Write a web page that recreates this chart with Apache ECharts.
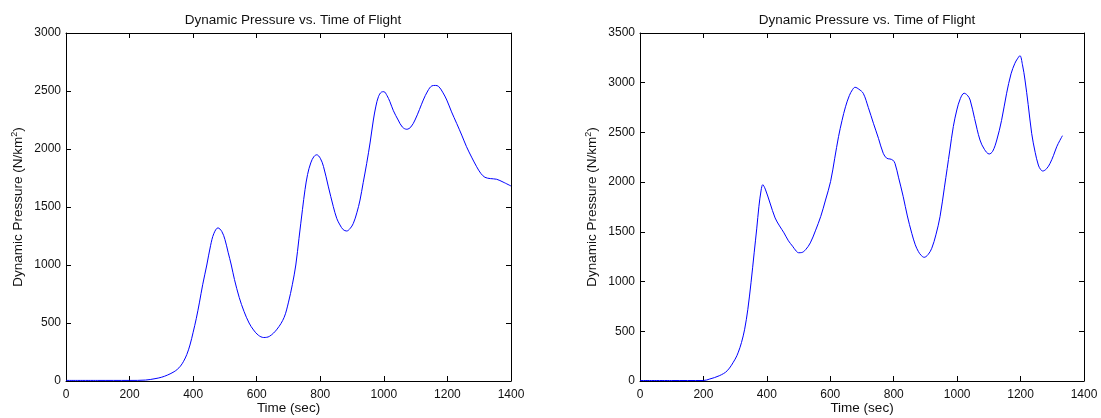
<!DOCTYPE html>
<html>
<head>
<meta charset="utf-8">
<title>Dynamic Pressure vs. Time of Flight</title>
<script src="https://cdn.jsdelivr.net/npm/echarts@6/dist/echarts.min.js"></script>
<style>
  html, body { margin: 0; padding: 0; background: #fff; }
  #chart { width: 1101px; height: 418px; }
</style>
</head>
<body>
<div id="chart"></div>
<script>
// Flight 1: time (s) and dynamic pressure
const leftTime = [0, 100, 200, 250, 280, 300, 320, 340, 350, 360, 370, 380, 390, 400, 410, 420, 430, 443, 455, 465, 478, 490, 500, 510, 520, 530, 545, 560, 576, 590, 605, 622, 640, 664, 686, 700, 712, 723, 733, 744, 752, 760, 770, 780, 789, 800, 810, 825, 841, 852, 862, 872, 883, 894, 904, 915, 925, 935, 946, 957, 967, 975, 983, 992, 1000, 1010, 1019, 1030, 1045, 1058, 1072, 1085, 1098, 1112, 1124, 1138, 1151, 1162, 1172, 1185, 1198, 1213, 1229, 1245, 1260, 1276, 1292, 1305, 1318, 1335, 1355, 1375, 1400];
const leftPressure = [5, 5, 5, 8, 20, 32, 52, 80, 100, 128, 170, 228, 310, 420, 540, 680, 830, 1000, 1170, 1270, 1320, 1290, 1220, 1110, 1000, 875, 720, 600, 500, 440, 395, 375, 385, 447, 547, 680, 830, 1000, 1230, 1480, 1650, 1780, 1880, 1935, 1950, 1920, 1850, 1680, 1503, 1400, 1345, 1305, 1293, 1315, 1359, 1450, 1560, 1710, 1876, 2060, 2250, 2370, 2451, 2490, 2494, 2460, 2408, 2330, 2250, 2190, 2170, 2190, 2250, 2340, 2422, 2500, 2544, 2548, 2540, 2490, 2422, 2320, 2221, 2120, 2020, 1930, 1847, 1790, 1756, 1745, 1739, 1715, 1681];

// Flight 2: time (s) and dynamic pressure
const rightTime = [0, 100, 200, 220, 250, 275, 300, 310, 320, 330, 340, 350, 360, 368, 375, 382, 387, 395, 410, 426, 440, 454, 468, 481, 493, 500, 510, 522, 537, 553, 570, 585, 601, 614, 626, 637, 648, 660, 670, 678, 690, 704, 720, 736, 752, 767, 778, 788, 797, 804, 815, 830, 843, 857, 868, 878, 887, 896, 908, 920, 933, 946, 960, 977, 988, 999, 1010, 1022, 1032, 1041, 1055, 1072, 1086, 1101, 1112, 1125, 1140, 1156, 1170, 1182, 1190, 1198, 1206, 1214, 1224, 1235, 1246, 1256, 1263, 1270, 1282, 1293, 1304, 1314, 1324, 1332];
const rightPressure = [5, 5, 5, 20, 53, 103, 220, 290, 387, 521, 721, 988, 1289, 1530, 1757, 1920, 1974, 1930, 1790, 1640, 1560, 1490, 1410, 1356, 1305, 1290, 1292, 1320, 1389, 1510, 1656, 1820, 2007, 2240, 2458, 2620, 2758, 2870, 2930, 2954, 2935, 2893, 2750, 2592, 2440, 2290, 2240, 2233, 2222, 2189, 2050, 1854, 1660, 1485, 1370, 1301, 1262, 1244, 1270, 1335, 1470, 1653, 1950, 2323, 2560, 2726, 2840, 2894, 2875, 2826, 2640, 2424, 2330, 2283, 2310, 2424, 2620, 2894, 3090, 3195, 3240, 3272, 3180, 3027, 2780, 2491, 2300, 2172, 2128, 2112, 2135, 2189, 2270, 2356, 2420, 2467];

const titleText = 'Dynamic Pressure vs. Time of Flight';
const xName = 'Time (sec)';
const yName = 'Dynamic Pressure (N/km{sup|2})';

const FONT = '"Liberation Sans", Arial, sans-serif';
const TXT = '#111';

function zip(xs, ys) { return xs.map((x, i) => [x, ys[i]]); }

function axisPair(kind, gridIndex, max, interval, name) {
  const isX = kind === 'x';
  const main = {
    type: 'value', gridIndex, min: 0, max, interval,
    position: isX ? 'bottom' : 'left',
    name,
    nameLocation: 'middle',
    nameGap: isX ? 19 : 40,
    nameMoveOverlap: false,
    nameTextStyle: {
      fontFamily: FONT, fontSize: 13.5, color: TXT, lineHeight: 16,
      rich: { sup: { fontFamily: FONT, fontSize: 9, color: TXT, verticalAlign: 'top', lineHeight: 16 } }
    },
    axisLine: { show: true, onZero: false, lineStyle: { color: '#000', width: 1 } },
    axisTick: { show: true, inside: true, length: 5, lineStyle: { color: '#000' } },
    axisLabel: {
      show: true, fontFamily: FONT, fontSize: 12, color: TXT,
      margin: isX ? 8 : 5,
      formatter: (v) => String(v)
    },
    splitLine: { show: false }
  };
  const mirror = {
    type: 'value', gridIndex, min: 0, max, interval,
    position: isX ? 'top' : 'right',
    axisLine: { show: true, onZero: false, lineStyle: { color: '#000', width: 1 } },
    axisTick: { show: true, inside: true, length: 5, lineStyle: { color: '#000' } },
    axisLabel: { show: false },
    splitLine: { show: false }
  };
  return [main, mirror];
}

const chart = echarts.init(document.getElementById('chart'), null, { renderer: 'canvas' });

const titleStyle = { fontFamily: FONT, fontSize: 13.5, fontWeight: 'normal', color: TXT };

chart.setOption({
  backgroundColor: '#fff',
  animation: false,
  title: [
    { text: titleText, left: 288, top: 8, textAlign: 'center', textStyle: titleStyle },
    { text: titleText, left: 862, top: 8, textAlign: 'center', textStyle: titleStyle }
  ],
  grid: [
    { left: 66, top: 33, width: 445, height: 348, show: false, outerBoundsMode: 'none', containLabel: false },
    { left: 640, top: 33, width: 444, height: 348, show: false, outerBoundsMode: 'none', containLabel: false }
  ],
  xAxis: [
    ...axisPair('x', 0, 1400, 200, xName),
    ...axisPair('x', 1, 1400, 200, xName)
  ],
  yAxis: [
    ...axisPair('y', 0, 3000, 500, yName),
    ...axisPair('y', 1, 3500, 500, yName)
  ],
  series: [
    {
      type: 'line', xAxisIndex: 0, yAxisIndex: 0,
      data: zip(leftTime, leftPressure),
      showSymbol: false, smooth: 0.35,
      lineStyle: { color: '#0000ff', width: 1 }
    },
    {
      type: 'line', xAxisIndex: 2, yAxisIndex: 2,
      data: zip(rightTime, rightPressure),
      showSymbol: false, smooth: 0.35,
      lineStyle: { color: '#0000ff', width: 1 }
    }
  ]
});
</script>
</body>
</html>
